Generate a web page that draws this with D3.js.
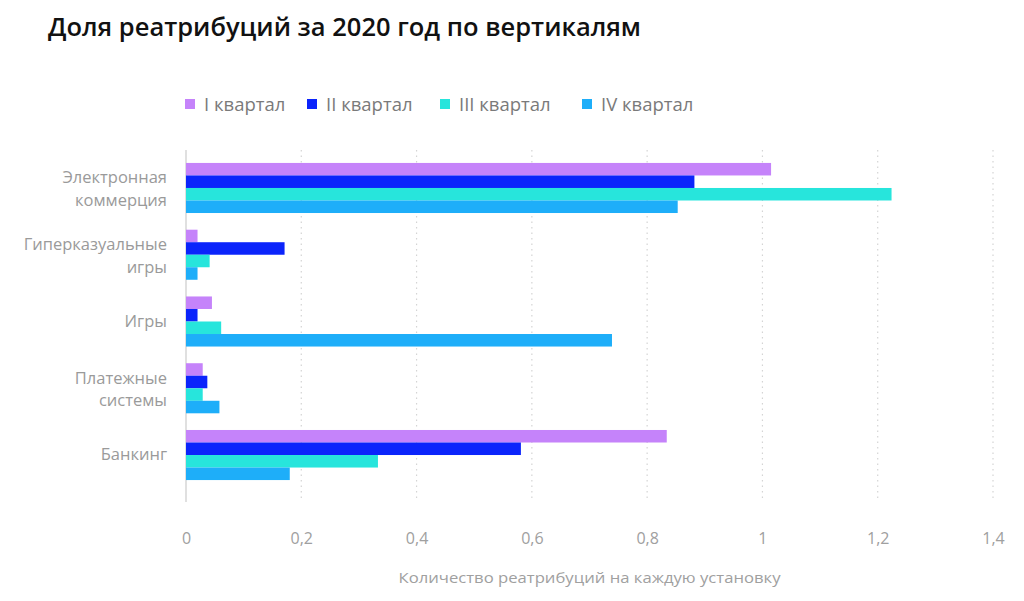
<!DOCTYPE html>
<html><head><meta charset="utf-8">
<script src="https://cdn.jsdelivr.net/npm/d3@7"></script>
<style>
body{margin:0;background:#fff;}
svg{display:block;font-family:"Open Sans",sans-serif;}
</style></head>
<body>
<svg id="chart" width="1024" height="601"></svg>
<script>
const categories = [["Электронная","коммерция"],["Гиперказуальные","игры"],["Игры"],["Платежные","системы"],["Банкинг"]];
const seriesNames = ["I квартал","II квартал","III квартал","IV квартал"];
const q1 = [1.015, 0.02, 0.045, 0.029, 0.834];
const q2 = [0.882, 0.171, 0.02, 0.037, 0.581];
const q3 = [1.224, 0.041, 0.061, 0.029, 0.333];
const q4 = [0.853, 0.02, 0.739, 0.058, 0.18];
const xTicks = [0, 0.2, 0.4, 0.6, 0.8, 1, 1.2, 1.4];
const colors = ["#c583fa", "#0b24fb", "#27e5dc", "#1eaef9"];
const series = [q1, q2, q3, q4];

const svg = d3.select("#chart");
const mLeft = 186, mRight = 993, mTop = 154.6, mBottom = 488.4;

const x = d3.scaleLinear().domain([0, 1.4]).range([mLeft, mRight]);
const catIdx = categories.map((d,i)=>i);
const y = d3.scaleBand().domain(catIdx).range([mTop, mBottom]).paddingInner(0.25).paddingOuter(0.125);
const y1 = d3.scaleBand().domain(d3.range(series.length)).range([0, y.bandwidth()]);

// title
svg.append("text").attr("x", 48).attr("y", 36)
  .attr("font-size", 24.5).attr("font-weight", 600).attr("fill", "#111")
  .attr("textLength", 593).attr("lengthAdjust", "spacingAndGlyphs")
  .text("Доля реатрибуций за 2020 год по вертикалям");

// gridlines
svg.append("g").selectAll("line").data(xTicks.slice(1)).join("line")
  .attr("x1", d=>x(d)).attr("x2", d=>x(d)).attr("y1", 150).attr("y2", 502)
  .attr("stroke", "#d4d4d4").attr("stroke-width", 1.2).attr("stroke-dasharray", "1.5,4");

// axis line
svg.append("line").attr("x1", x(0)).attr("x2", x(0)).attr("y1", 150).attr("y2", 502)
  .attr("stroke", "#d6d6d6").attr("stroke-width", 1.5);

// bars
const g = svg.append("g");
series.forEach((vals, si) => {
  g.append("g").selectAll("rect").data(vals).join("rect")
    .attr("x", x(0))
    .attr("y", (d,i)=>y(i) + y1(si))
    .attr("width", d=>x(d)-x(0))
    .attr("height", y1.bandwidth())
    .attr("fill", colors[si]);
});

// y labels
const yl = svg.append("g");
categories.forEach((lines, i) => {
  const cy = y(i) + y.bandwidth()/2;
  const t = yl.append("text").attr("text-anchor", "end").attr("font-size", 16.5).attr("fill", "#9a9a9a");
  if (lines.length === 1) {
    t.append("tspan").attr("x", 167).attr("y", cy + 5).text(lines[0]);
  } else {
    lines.forEach((ln, k) => {
      t.append("tspan").attr("x", 167).attr("y", cy - 4.5 + k*22.5).text(ln);
    });
  }
});

// x axis
const xAxis = d3.axisBottom(x).tickValues(xTicks).tickSize(0)
  .tickFormat(d => String(d).replace(".", ","));
const ax = svg.append("g").attr("transform", "translate(0,530)").call(xAxis);
ax.select(".domain").remove();
ax.selectAll("text").attr("font-size", 16).attr("fill", "#a0a0a0").attr("font-family", "Open Sans, sans-serif");

svg.append("text").attr("x", (mLeft+mRight)/2).attr("y", 583).attr("text-anchor", "middle")
  .attr("font-size", 15).attr("fill", "#a0a0a0")
  .attr("textLength", 382).attr("lengthAdjust", "spacingAndGlyphs")
  .text("Количество реатрибуций на каждую установку");

// legend
const legX = [185, 307, 440, 582];
const leg = svg.append("g");
seriesNames.forEach((n, i) => {
  leg.append("rect").attr("x", legX[i]).attr("y", 99).attr("width", 10).attr("height", 10).attr("fill", colors[i]);
  leg.append("text").attr("x", legX[i] + 19).attr("y", 111).attr("font-size", 18.5).attr("fill", "#7a7a7a").text(n);
});
</script>
</body></html>
